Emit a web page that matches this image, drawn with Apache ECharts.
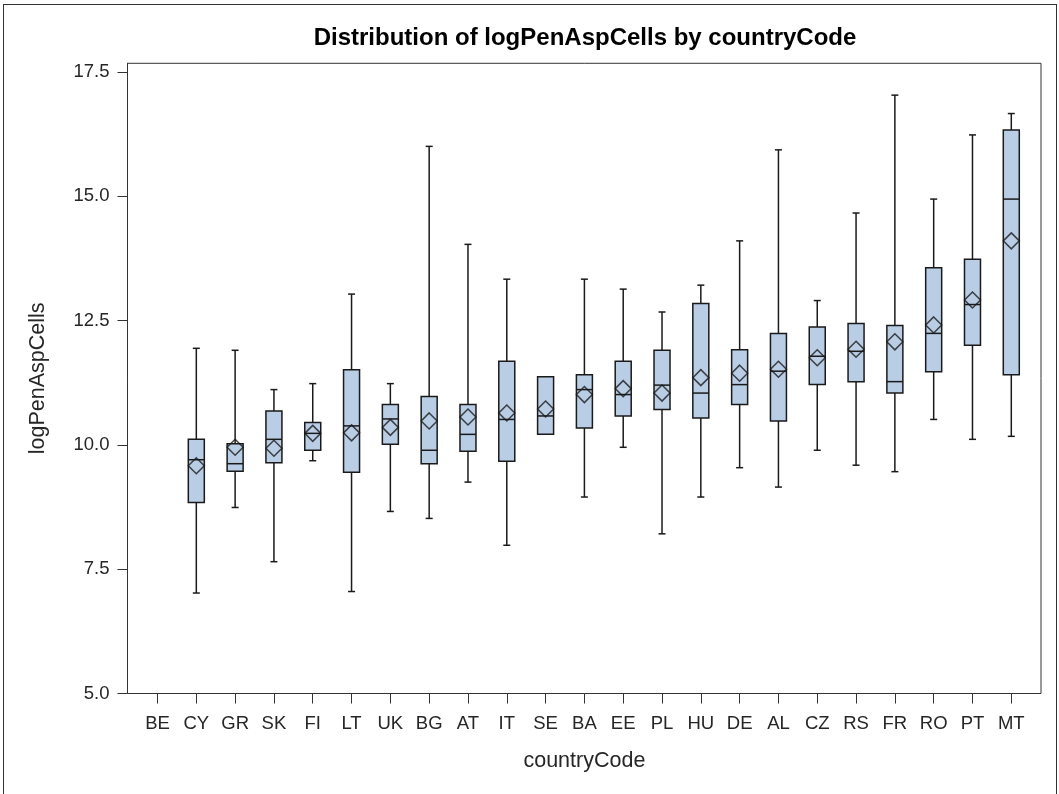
<!DOCTYPE html>
<html>
<head>
<meta charset="utf-8">
<script src="https://cdn.jsdelivr.net/npm/echarts@6/dist/echarts.min.js"></script>
<style>
  html, body { margin: 0; padding: 0; background: #fff; overflow: hidden; }
  #wrap { position: relative; width: 1059px; height: 794px; overflow: hidden; }
  #border { position: absolute; left: 3px; top: 4px; width: 1052px; height: 900px; border: 1px solid #333; }
  #chart { position: absolute; left: 0; top: 0; width: 1059px; height: 794px; }
</style>
</head>
<body>
<div id="wrap">
  <div id="border"></div>
  <div id="chart"></div>
</div>
<script>
// Country codes, ordered by mean
const countryCodes = ['BE','CY','GR','SK','FI','LT','UK','BG','AT','IT','SE','BA','EE','PL','HU','DE','AL','CZ','RS','FR','RO','PT','MT'];

// Box statistics per country (null = no observations)
const whiskerLow  = [null, 7.02, 8.74, 7.65, 9.68, 7.05, 8.66, 8.52, 9.25, 7.98, 10.21, 8.95, 9.95, 8.21, 8.95, 9.54, 9.15, 9.89, 9.59, 9.46, 10.51, 10.11, 10.17];
const quartile1   = [null, 8.84, 9.47, 9.64, 9.89, 9.45, 10.01, 9.62, 9.87, 9.67, 10.21, 10.34, 10.58, 10.71, 10.54, 10.81, 10.48, 11.21, 11.27, 11.04, 11.47, 12.00, 11.41];
const medians     = [null, 9.70, 9.62, 10.11, 10.23, 10.38, 10.52, 9.89, 10.21, 10.51, 10.58, 11.11, 11.01, 11.20, 11.04, 11.21, 11.48, 11.78, 11.88, 11.27, 12.24, 12.82, 14.94];
const quartile3   = [null, 10.11, 10.02, 10.68, 10.45, 11.51, 10.81, 10.97, 10.81, 11.68, 11.37, 11.41, 11.68, 11.90, 12.84, 11.91, 12.24, 12.37, 12.44, 12.40, 13.56, 13.73, 16.33];
const whiskerHigh = [null, 11.94, 11.90, 11.11, 11.23, 13.03, 11.23, 16.00, 14.03, 13.33, 11.37, 13.33, 13.13, 12.67, 13.21, 14.10, 15.93, 12.90, 14.66, 17.03, 14.94, 16.23, 16.66];
const means       = [null, 9.58, 9.95, 9.93, 10.23, 10.24, 10.35, 10.48, 10.56, 10.64, 10.72, 11.01, 11.13, 11.04, 11.35, 11.44, 11.52, 11.75, 11.92, 12.07, 12.41, 12.91, 14.10];

// Y axis tick labels
const yTicks = [5.0, 7.5, 10.0, 12.5, 15.0, 17.5];
const yMin = 5.0;
const yMax = 17.67;

const boxData = [];
const meanData = [];
countryCodes.forEach((c, i) => {
  if (medians[i] == null) return;
  boxData.push([i, whiskerLow[i], quartile1[i], medians[i], quartile3[i], whiskerHigh[i]]);
  meanData.push([i, means[i]]);
});

const INK = '#1a1a1a';
const FILL = '#b9cde5';
const FONT = '"Liberation Sans", Arial, sans-serif';
const LABEL = '#262626';

function renderBox(params, api) {
  const x = api.value(0);
  const pLow = api.coord([x, api.value(1)]);
  const pQ1 = api.coord([x, api.value(2)]);
  const pMed = api.coord([x, api.value(3)]);
  const pQ3 = api.coord([x, api.value(4)]);
  const pHigh = api.coord([x, api.value(5)]);
  const cx = pMed[0];
  const half = 8;
  const cap = 3.5;
  const ls = { stroke: INK, lineWidth: 1.5 };
  const children = [];
  if (pHigh[1] < pQ3[1] - 0.5) {
    children.push({ type: 'line', shape: { x1: cx, y1: pHigh[1], x2: cx, y2: pQ3[1] }, style: ls });
    children.push({ type: 'line', shape: { x1: cx - cap, y1: pHigh[1], x2: cx + cap, y2: pHigh[1] }, style: ls });
  }
  if (pLow[1] > pQ1[1] + 0.5) {
    children.push({ type: 'line', shape: { x1: cx, y1: pQ1[1], x2: cx, y2: pLow[1] }, style: ls });
    children.push({ type: 'line', shape: { x1: cx - cap, y1: pLow[1], x2: cx + cap, y2: pLow[1] }, style: ls });
  }
  children.push({
    type: 'rect',
    shape: { x: cx - half, y: pQ3[1], width: half * 2, height: pQ1[1] - pQ3[1] },
    style: { fill: FILL, stroke: INK, lineWidth: 1.5 }
  });
  children.push({ type: 'line', shape: { x1: cx - half, y1: pMed[1], x2: cx + half, y2: pMed[1] }, style: ls });
  return { type: 'group', children: children };
}

const chart = echarts.init(document.getElementById('chart'), null, { renderer: 'canvas' });

const gridTop = 63.3;
const gridHeight = 630.2;

chart.setOption({
  animation: false,
  backgroundColor: 'transparent',
  textStyle: { fontFamily: FONT },
  graphic: [{
    type: 'text',
    x: 585, y: 38,
    style: {
      text: 'Distribution of logPenAspCells by countryCode',
      font: 'bold 24px ' + FONT,
      fill: '#000',
      textAlign: 'center',
      textVerticalAlign: 'middle'
    }
  }],
  grid: [
    { left: 127.5, top: gridTop, width: 913.5, height: gridHeight, show: true, borderColor: '#333', borderWidth: 1, backgroundColor: 'transparent' },
    { left: 138.1, top: gridTop, width: 892.6, height: gridHeight }
  ],
  xAxis: [
    { type: 'value', gridIndex: 0, min: 0, max: 1, show: false },
    {
      type: 'category', gridIndex: 1, data: countryCodes,
      axisLine: { show: false },
      axisTick: { show: true, alignWithLabel: true, length: 10, lineStyle: { color: '#333', width: 1 } },
      axisLabel: { color: LABEL, fontSize: 18.5, margin: 21, fontFamily: FONT, interval: 0 },
      name: 'countryCode', nameLocation: 'middle', nameGap: 57,
      nameTextStyle: { color: LABEL, fontSize: 21.5, fontFamily: FONT }
    }
  ],
  yAxis: [
    {
      type: 'value', gridIndex: 0, min: yMin, max: yMax,
      axisLine: { show: true, lineStyle: { color: '#333', width: 1 } },
      axisTick: { show: true, length: 10, customValues: yTicks, lineStyle: { color: '#333', width: 1 } },
      axisLabel: { customValues: yTicks, color: LABEL, fontSize: 18.5, margin: 18, fontFamily: FONT, formatter: v => v.toFixed(1) },
      splitLine: { show: false },
      name: 'logPenAspCells', nameLocation: 'middle', nameGap: 78,
      nameTextStyle: { color: LABEL, fontSize: 21.5, fontFamily: FONT }
    },
    { type: 'value', gridIndex: 1, min: yMin, max: yMax, show: false, splitLine: { show: false } }
  ],
  series: [
    {
      type: 'custom', name: 'box', xAxisIndex: 1, yAxisIndex: 1,
      renderItem: renderBox,
      encode: { x: 0, y: [1, 2, 3, 4, 5] },
      data: boxData, z: 2
    },
    {
      type: 'scatter', name: 'mean', xAxisIndex: 1, yAxisIndex: 1,
      symbol: 'diamond', symbolSize: [16, 16],
      itemStyle: { color: 'rgba(0,0,0,0)', borderColor: INK, borderWidth: 1.5 },
      data: meanData, z: 3
    }
  ]
});
</script>
</body>
</html>
